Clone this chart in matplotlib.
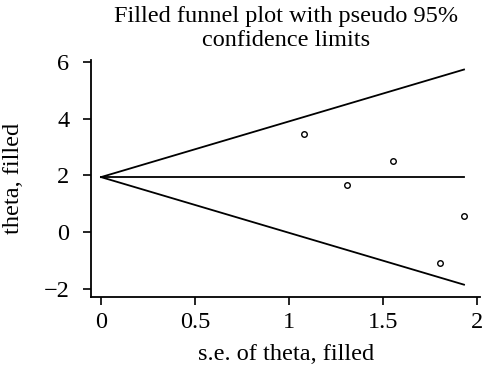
import matplotlib
matplotlib.use('Agg')
import numpy as np
import matplotlib.pyplot as plt

# --- Data ---
se_filled = [1.08, 1.31, 1.55, 1.80, 1.93]
theta_filled = [3.45, 1.67, 2.49, -1.09, 0.58]
theta_pooled = 1.94
se_max = 1.93
z95 = 1.96

x_ticks = [0, 0.5, 1, 1.5, 2]
x_ticklabels = ["0", "0.5", "1", "1.5", "2"]
y_ticks = [-2, 0, 2, 4, 6]
y_ticklabels = ["\u22122", "0", "2", "4", "6"]

FS = 17.5
plt.rcParams.update({
    "font.family": ["Liberation Serif", "DejaVu Serif"],
    "font.size": FS,
})

fig = plt.figure(figsize=(4.87, 3.70), dpi=100)
ax = fig.add_axes([0.187, 0.197, 0.799, 0.641])

# pseudo 95% confidence limits and pooled estimate
se_line = np.array([0, se_max])
ax.plot(se_line, theta_pooled + z95 * se_line, color='black', lw=1.3)
ax.plot(se_line, theta_pooled - z95 * se_line, color='black', lw=1.3)
ax.plot(se_line, [theta_pooled, theta_pooled], color='black', lw=1.3)

# filled studies
ax.plot(se_filled, theta_filled, 'o', ms=4, mfc='white', mec='black', mew=1.0,
        linestyle='none')

ax.set_xlim(-0.053, 2.016)
ax.set_ylim(-2.28, 6.06)
ax.set_xticks(x_ticks)
ax.set_xticklabels(x_ticklabels)
ax.set_yticks(y_ticks)
ax.set_yticklabels(y_ticklabels)
ax.tick_params(direction='out', length=5.5, width=1.2, labelsize=FS)
ax.tick_params(axis='x', pad=5)
ax.tick_params(axis='y', pad=10)

for side in ['top', 'right']:
    ax.spines[side].set_visible(False)
for side in ['left', 'bottom']:
    ax.spines[side].set_linewidth(1.3)

ax.set_xlabel("s.e. of theta, filled", fontsize=FS, labelpad=8)
ax.set_ylabel("theta, filled", fontsize=FS, labelpad=14)
ax.set_title("Filled funnel plot with pseudo 95%\nconfidence limits",
             fontsize=FS, linespacing=1.2, pad=10)

fig.savefig("out.png", dpi=100)
